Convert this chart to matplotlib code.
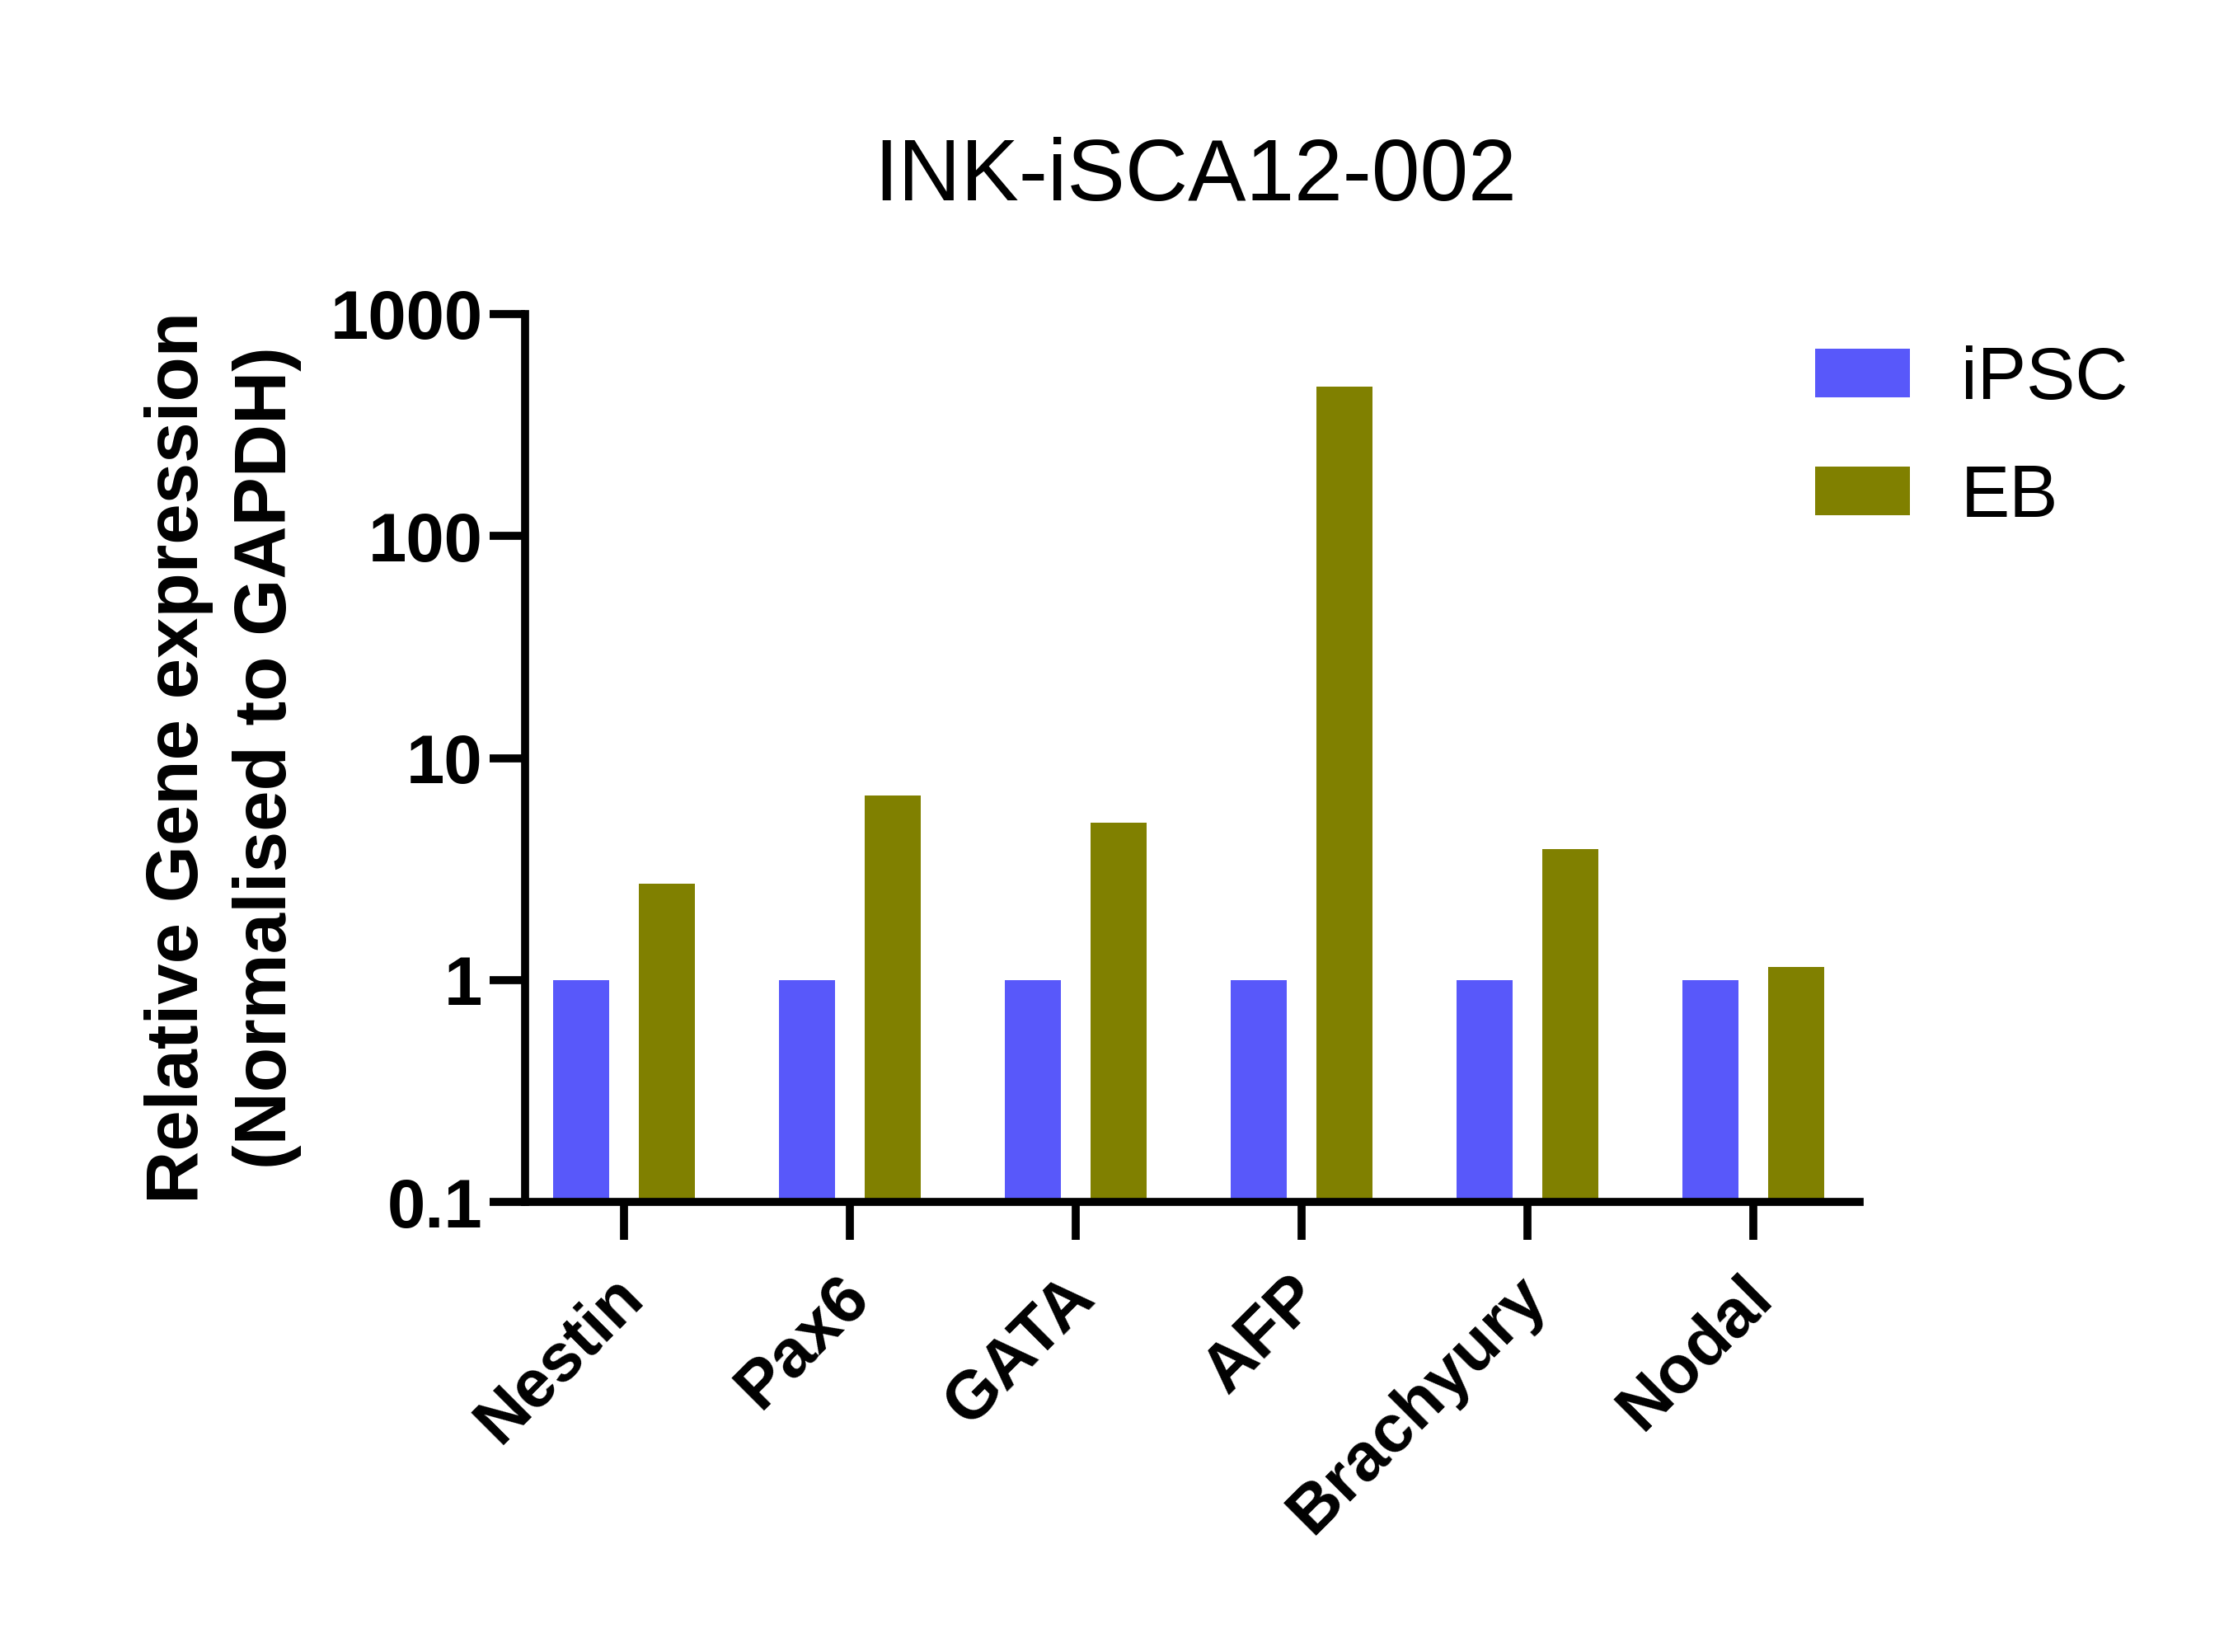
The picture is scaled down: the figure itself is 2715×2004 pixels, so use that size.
import matplotlib
matplotlib.use("Agg")
import matplotlib.pyplot as plt
import matplotlib.transforms as mtransforms
from matplotlib.ticker import FixedLocator, NullLocator
import numpy as np

categories = ["Nestin", "Pax6", "GATA", "AFP", "Brachyury", "Nodal"]
ipsc = [1.0, 1.0, 1.0, 1.0, 1.0, 1.0]
eb = [2.72, 6.8, 5.1, 470.0, 3.88, 1.14]
series_names = ["iPSC", "EB"]
colors = ["#5858FA", "#808000"]
title = "INK-iSCA12-002"
ylabel = "Relative Gene expression\n(Normalised to GAPDH)"
yticks = [0.1, 1, 10, 100, 1000]
yticklabels = ["0.1", "1", "10", "100", "1000"]

plt.rcParams['font.family'] = ['Liberation Sans', 'DejaVu Sans']

W, H = 2715, 2004
fig = plt.figure(figsize=(W / 100, H / 100), dpi=100)
left, right, top, bottom = 637, 2256, 381, 1458
ax = fig.add_axes([left / W, 1 - bottom / H, (right - left) / W, (bottom - top) / H])

x = np.arange(len(categories))
bw = 0.25
off = 0.19
ax.set_yscale('log')
ax.bar(x - off, ipsc, width=bw, color=colors[0], label=series_names[0], bottom=1e-3)
ax.bar(x + off, eb, width=bw, color=colors[1], label=series_names[1], bottom=1e-3)
ax.set_ylim(0.1, 1000)
ax.set_xlim(-0.438, len(categories) - 1 + 0.471)

lw = 7.0
for s in ['top', 'right']:
    ax.spines[s].set_visible(False)
for s in ['left', 'bottom']:
    ax.spines[s].set_linewidth(lw)
    ax.spines[s].set_capstyle('projecting')

ax.yaxis.set_major_locator(FixedLocator(yticks))
ax.yaxis.set_minor_locator(NullLocator())
ax.set_yticks(yticks)
ax.set_yticklabels(yticklabels, fontsize=60, fontweight='bold')
ax.tick_params(axis='y', length=31, width=lw, pad=6)
ax.set_xticks(x)
ax.set_xticklabels(categories, fontsize=59, fontweight='bold', rotation=45,
                   ha='right', va='top', rotation_mode='anchor')
ax.tick_params(axis='x', length=33, width=lw, pad=22)
shift = mtransforms.ScaledTranslation(-16 / 100, 0, fig.dpi_scale_trans)
for lab in ax.get_xticklabels():
    lab.set_transform(lab.get_transform() + shift)

fig.text(1450 / W, 1 - 243 / H, title, fontsize=76, ha='center', va='baseline')
fig.text(366 / W, 1 - 919 / H, ylabel, fontsize=64, fontweight='bold', rotation=90,
         ha='right', va='center', multialignment='center', linespacing=1.35)

leg = ax.legend(loc='upper left', bbox_to_anchor=(2202 / W, 1 - 419 / H),
                bbox_transform=fig.transFigure, frameon=False, fontsize=64,
                handlelength=1.29, handleheight=0.64, handletextpad=0.7,
                labelspacing=0.66, borderpad=0, borderaxespad=0)

fig.savefig("out.png", dpi=100)
